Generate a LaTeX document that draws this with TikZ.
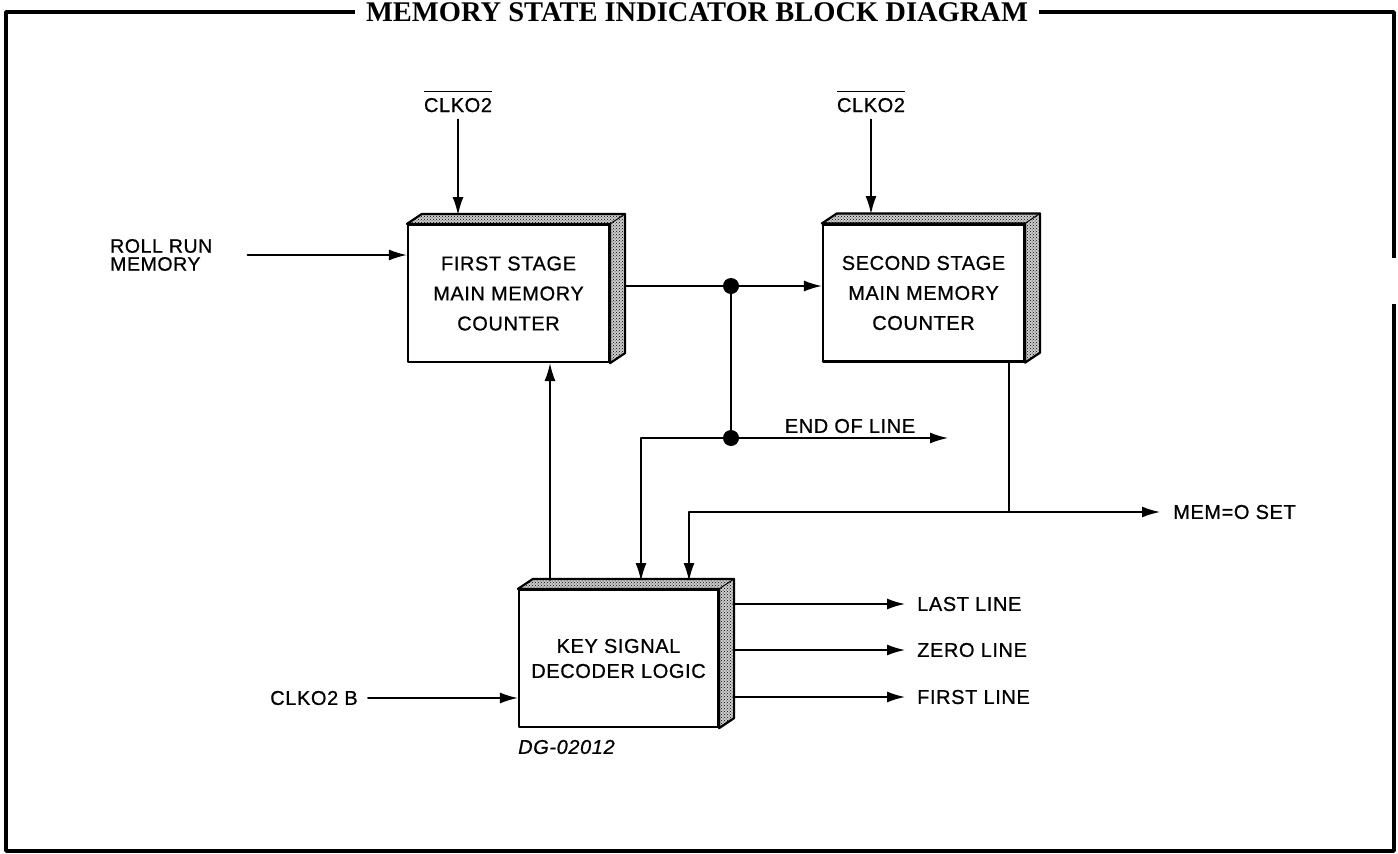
\documentclass[tikz,border=0pt]{standalone}
\usepackage{fontspec}
\setmainfont{Liberation Serif}
\newfontfamily\leroy[LetterSpace=3,FakeBold=0.8]{Liberation Sans}
\usetikzlibrary{arrows.meta,calc,positioning,patterns}

\begin{document}
\begin{tikzpicture}[x=1pt, y=-1pt, >={Latex[length=18pt,width=11pt]}, line cap=round, line join=round,
	block/.style={draw, line width=2.2pt, fill=white, minimum width=201pt, minimum height=137pt,
		align=center, inner sep=0pt, font=\leroy\fontsize{20}{30}\selectfont},
	sig/.style={inner sep=2pt, font=\leroy\fontsize{20}{18}\selectfont},
	wire/.style={line width=1.6pt},
	jdot/.style={circle, fill, inner sep=0pt, minimum size=16pt}]
	
	\useasboundingbox (0,0) rectangle (1398,854);
	
	% outer frame and title
	\draw[line width=3.5pt, line cap=butt] (1394,258) -- (1394,12) -- (6,12) -- (6,851) -- (1394,851) -- (1394,304);
	\node[fill=white, inner xsep=11pt, inner ysep=2pt, font=\bfseries\fontsize{28.5}{28.5}\selectfont] (title) at (697,12.5)
	{MEMORY STATE INDICATOR BLOCK DIAGRAM};
	
	% the three counter / decoder blocks
	\node[block] (fs) at (508.5,293.5) {FIRST STAGE\\MAIN MEMORY\\COUNTER};
	\node[block] (ss) at (923.5,293) {SECOND STAGE\\MAIN MEMORY\\COUNTER};
	\node[block, minimum width=199pt, font=\leroy\fontsize{20}{25}\selectfont] (kd) at (618.5,658.5)
	{KEY SIGNAL\\DECODER LOGIC};
	
	% raised top and side faces
	\foreach \b in {fs,ss,kd}{
		\filldraw[line width=2.2pt, preaction={fill=gray!40}, pattern=crosshatch dots] (\b.north west) -- ++(15,-10)
		-- ($(\b.north east)+(15,-10)$) -- ($(\b.south east)+(15,-10)$) -- (\b.south east)
		-- (\b.north east) -- cycle;
		\draw[line width=1pt] (\b.north east) -- ++(15,-10);
	}
	
	% clock inputs from the top
	\node[sig, anchor=base] (clka) at (458,112) {$\overline{\hbox{\rule{0pt}{19pt}CLKO2}}$};
	\node[sig, anchor=base] (clkc) at (871,112) {$\overline{\hbox{\rule{0pt}{19pt}CLKO2}}$};
	\coordinate (fsclk) at (458,215);
	\coordinate (ssclk) at (871,214);
	\draw[wire,->] ([yshift=-5pt]clka.south) -- (fsclk);
	\draw[wire,->] ([yshift=-5pt]clkc.south) -- (ssclk);
	
	% roll run memory
	\node[sig, align=left, font=\leroy\fontsize{19.5}{18}\selectfont, anchor=west] (roll) at (108,255)
	{ROLL RUN\\MEMORY};
	\draw[wire,->] ([xshift=33pt]roll.east) -- (roll.east -| fs.west);
	
	% first stage output, end of line
	\coordinate (j1) at (731,286);
	\coordinate (j2) at (731,438);
	\draw[wire] ($(fs.east |- j1)+(15,0)$) -- (j1);
	\draw[wire,->] (j1) -- (j1 -| ss.west);
	\draw[wire] (j1) -- (j2);
	\node[jdot] (d1) at (j1) {};
	\node[jdot] (d2) at (j2) {};
	\node[sig] (eol) at (850,426) {END OF LINE};
	\coordinate (eolend) at (948,438);
	\draw[wire,->] (j2) -- (eolend);
	\coordinate (kdin1) at (641,581);
	\draw[wire,->] (j2) -| (kdin1);
	
	% second stage output, mem = 0
	\coordinate (j3) at (1009,512);
	\draw[wire] (ss.south -| j3) -- (j3);
	\node[sig, anchor=west] (mem) at (1171,512) {MEM=O SET};
	\draw[wire,->, shorten >=11pt] (j3) -- (j3 -| mem.west);
	\coordinate (kdin2) at (689,581);
	\draw[wire,->] (j3) -| (kdin2);
	
	% decoder back to first stage
	\coordinate (kdup) at (550,580);
	\draw[wire,->] (kdup) -- (kdup |- fs.south);
	
	% clock b into decoder
	\node[sig] (clkb) at (314,698) {CLKO2 B};
	\draw[wire,->] ([xshift=8pt]clkb.east) -- (clkb.east -| kd.west);
	
	% decoder outputs
	\foreach \y/\n/\t in {604/last/LAST LINE, 650/zero/ZERO LINE, 697/first/FIRST LINE}{
		\node[sig, anchor=west] (\n) at (915,\y) {\t};
		\draw[wire,->, shorten >=10pt] ($(kd.east |- \n)+(14,0)$) -- (\n.west);
	}
	
	\node[sig, anchor=west, font=\leroy\itshape\fontsize{20}{20}\selectfont] (dg) at (516,747) {DG-02012};
	
\end{tikzpicture}
\end{document}
